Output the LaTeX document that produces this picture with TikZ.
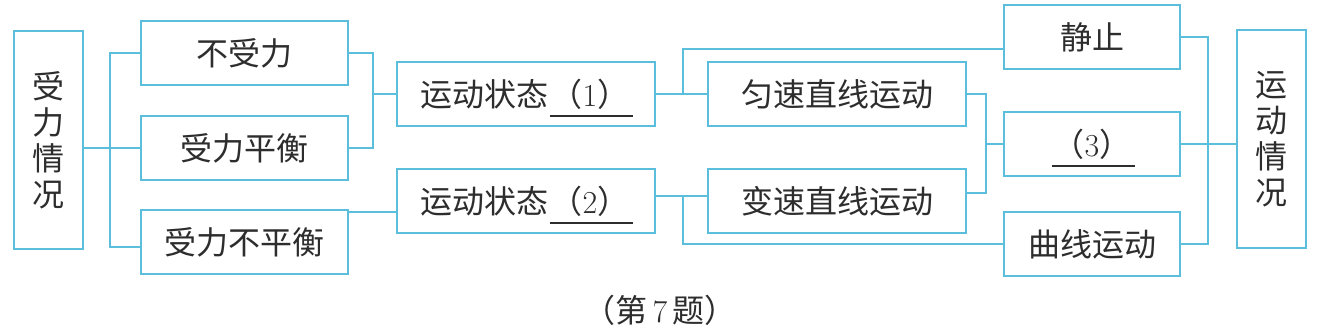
\documentclass[tikz,border=0pt]{standalone}
\usepackage{fontspec}
\usepackage{xcolor}
\usepackage{tikz}
\usetikzlibrary{positioning,calc}
\newfontfamily\cjk{Noto Sans CJK SC}
\definecolor{linecyan}{RGB}{90,190,220}
\definecolor{inkgrey}{RGB}{45,45,45}
% digits in the serif face, blanks with a low rule under them
\newcommand\num[1]{{\normalfont #1}}
\newcommand\fillin[1]{\makebox[41.5pt]{\rlap{\raisebox{-5pt}[0pt][0pt]{\rule{41.5pt}{0.8pt}}}\hfil#1\hfil}}

\begin{document}
\begin{tikzpicture}[x=0.5pt,y=-0.5pt,
  cell/.style={draw=linecyan,line width=1pt,inner sep=0pt,text=inkgrey,
    font=\cjk\fontsize{16}{18}\selectfont},
  tall/.style={cell,minimum width=34.5pt,minimum height=109pt,align=center},
  force/.style={cell,minimum width=103.5pt,minimum height=32pt},
  motion/.style={cell,minimum width=129pt,minimum height=32pt},
  result/.style={cell,minimum width=88pt,minimum height=32pt},
  link/.style={draw=linecyan,line width=1pt}]
  \useasboundingbox (0,0) rectangle (1319,335);
  % left side: forces
  \node[tall] (shqk) at (48.5,140.5) {受\\力\\情\\况};
  \node[force] (bsl) at (244.5,53.5) {不受力};
  \node[force] (slph) at (244.5,148.5) {受力平衡};
  \node[force] (bph) at (244.5,242) {受力不平衡};
  % middle: state of motion
  \node[motion] (zt1) at (526,94.5) {运动状态\fillin{（\num{1}）}};
  \node[motion] (zt2) at (526,201.5) {运动状态\fillin{（\num{2}）}};
  \node[motion] (yszx) at (837,94.5) {匀速直线运动};
  \node[motion] (bszx) at (837,201.5) {变速直线运动};
  % right side: kinds of motion
  \node[result] (jz) at (1092,37) {静止};
  \node[result] (q3) at (1092,144.5) {\fillin{（\num{3}）}};
  \node[result] (qx) at (1092,244) {曲线运动};
  \node[tall] (ydqk) at (1271.5,139) {运\\动\\情\\况};
  \node[font=\cjk\fontsize{16}{18}\selectfont,text=inkgrey] (cap) at (660,310) {（第\,\num{7}\,题）};
  % junctions of the brackets
  \coordinate (jl) at (110,148.5);
  \coordinate (jm) at (373,94.5);
  \coordinate (jr1) at (683,94.5);
  \coordinate (jr2) at (683,196.5);
  \coordinate (jr3) at (986,144.5);
  \coordinate (jr4) at (1208,144.5);
  % connectors
  \draw[link] (shqk.east |- jl) -- (jl) -- (slph.west);
  \draw[link] (bsl.west) -| (jl) |- ([yshift=-2.5pt]bph.west);
  \draw[link] (bsl.east) -| (jm) |- (slph.east);
  \draw[link] (jm) -- (zt1.west);
  \draw[link] ([yshift=-5.25pt]bph.east |- zt2.west) -- ([yshift=-5.25pt]zt2.west);
  \draw[link] (zt1.east) -- (jr1) -- (yszx.west);
  \draw[link] (jr1) |- ([yshift=-6pt]jz.west);
  \draw[link] ([yshift=2.5pt]zt2.east) -- ([yshift=2.5pt]bszx.west);
  \draw[link] (jr2) |- (qx.west);
  \draw[link] (yszx.east) -| (jr3) |- ([yshift=4.25pt]bszx.east);
  \draw[link] (jr3) -- (q3.west);
  \draw[link] (jz.east) -| (jr4) |- (qx.east);
  \draw[link] (q3.east) -- (jr4) -- (jr4 -| ydqk.west);
\end{tikzpicture}
\end{document}
